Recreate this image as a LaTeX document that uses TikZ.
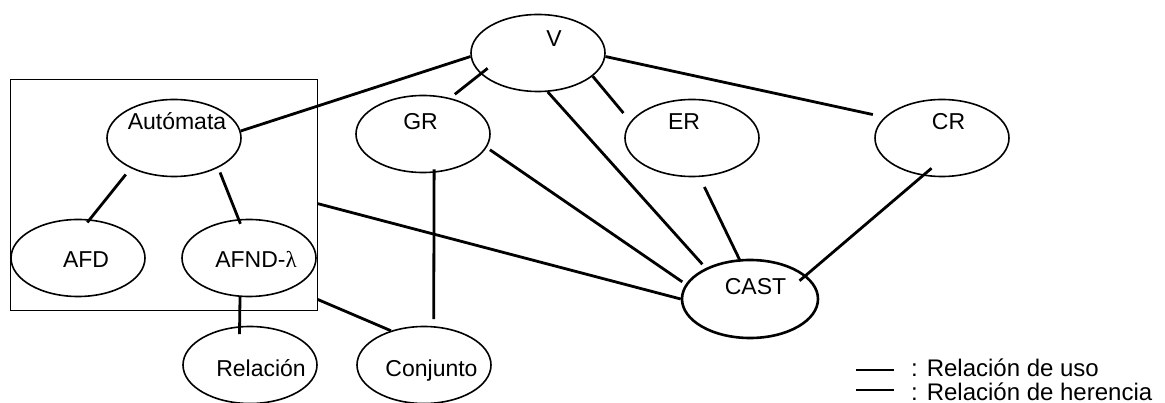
\documentclass[tikz,border=0pt]{standalone}
\usepackage{fontspec}
\setmainfont{Liberation Sans}
\newfontfamily\lamfont{Liberation Serif}
\usetikzlibrary{shapes.geometric}

\tikzset{
  ell/.style={draw, ellipse, line width=1.6pt, minimum width=134pt, minimum height=77pt, inner sep=0pt},
  uso/.style={line width=2.8pt},
  lbl/.style={font=\fontsize{23}{27}\selectfont, inner sep=0pt, anchor=base},
  ley/.style={font=\fontsize{24}{28}\selectfont, inner sep=0pt, anchor=base west}
}

\begin{document}
\begin{tikzpicture}[x=1pt,y=-1pt]
\useasboundingbox (0,0) rectangle (1165,403);
% classes
\node[ell] (v) at (538,53) {};
\node[ell] (aut) at (174,138) {};
\node[ell] (gr) at (423,134) {};
\node[ell] (er) at (692,138) {};
\node[ell] (cr) at (942,138) {};
\node[ell] (afd) at (78,258) {};
\node[ell] (afnd) at (249,258) {};
\node[ell] (rel) at (250,365) {};
\node[ell] (conj) at (424,365) {};
\node[ell, line width=2.6pt, minimum width=136pt, minimum height=78pt] (cast) at (750,299) {};
\node[draw, line width=1pt, minimum width=307pt, minimum height=231pt, inner sep=0pt] (box) at (163.5,195.5) {};
% names
\node[lbl, xshift=16pt, yshift=6pt] (vt) at (v) {V};
\node[lbl, xshift=3pt, yshift=8pt] (autt) at (aut) {Autómata};
\node[lbl, xshift=-2.5pt, yshift=4pt] (grt) at (gr) {GR};
\node[lbl, xshift=-8pt, yshift=8pt] (ert) at (er) {ER};
\node[lbl, xshift=6.5pt, yshift=8pt] (crt) at (cr) {CR};
\node[lbl, xshift=8pt, yshift=-10pt] (afdt) at (afd) {AFD};
\node[lbl, xshift=7pt, yshift=-10pt] (afndt) at (afnd) {AFND-{\lamfont λ}};
\node[lbl, xshift=11pt, yshift=-12pt] (relt) at (rel) {Relación};
\node[lbl, xshift=7.5pt, yshift=-11.5pt] (conjt) at (conj) {Conjunto};
\node[lbl, xshift=5.5pt, yshift=4pt] (castt) at (cast) {CAST};
% relations
\draw[uso] (v.183) -- (aut.6);
\draw[uso, shorten <=-9pt, shorten >=6pt] (v.200) -- (gr.53);
\draw[uso, shorten >=5pt] (v.284) -- (cast.145);
\draw[uso, shorten >=11pt] (v.337) -- (er.165);
\draw[uso, shorten >=12pt] (v.357) -- (cr.160);
\draw[uso, shorten <=-3.5pt, shorten >=7pt] (gr.286) -- (conj.76);
\draw[uso, shorten <=4pt, shorten >=4pt] (gr.348) -- (cast.167);
\draw[uso, shorten <=11pt, shorten >=-2.5pt] (er.281) -- (cast.105);
\draw[uso, shorten <=-11.5pt, shorten >=-8.5pt] (cr.243) -- (cast.23);
\draw[uso] (box.357) -- (cast.west);
\draw[uso] (box.326) -- (conj.134);
\draw[uso, shorten >=-8pt] (afnd.257) -- (rel.105);
\draw[uso, shorten <=8pt, shorten >=-4pt] (aut.215) -- (afd.73);
\draw[uso, shorten <=5pt, shorten >=-5pt] (aut.326) -- (afnd.105);
% legend
\coordinate (l1a) at (856,370);
\coordinate (l1b) at (894,370);
\coordinate (l2a) at (856,390);
\coordinate (l2b) at (894,390);
\draw[line width=2.2pt] (l1a) -- (l1b);
\draw[line width=2.2pt] (l2a) -- (l2b);
\node[ley] (ley1) at (911,377) {: Relación de uso};
\node[ley] (ley2) at (911,400) {: Relación de herencia};
\end{tikzpicture}
\end{document}
